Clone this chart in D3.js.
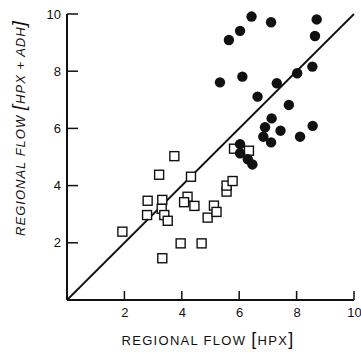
<!DOCTYPE html>
<html>
<head>
<meta charset="utf-8">
<script src="https://cdn.jsdelivr.net/npm/d3@7"></script>
<style>
  body { margin: 0; background: #fff; }
  text { font-family: "Liberation Sans", Arial, sans-serif; fill: #111; }
</style>
</head>
<body>
<svg id="chart" width="361" height="352"></svg>
<script>
// HPX + ADH (filled circles): [hpx, hpxAdh]
const adhPoints = [
  [6.43, 9.91], [7.11, 9.71], [8.70, 9.81], [6.03, 9.41], [5.64, 9.09],
  [8.64, 9.23], [5.33, 7.61], [6.11, 7.81], [7.31, 7.58], [8.02, 7.93],
  [8.55, 8.16], [6.64, 7.11], [7.73, 6.82], [7.13, 6.35], [6.90, 6.04],
  [7.44, 5.92], [8.56, 6.09], [6.84, 5.71], [8.12, 5.71], [7.11, 5.51],
  [6.03, 5.45], [6.03, 5.13], [6.30, 4.92], [6.46, 4.74]
];
// control (open squares)
const ctlPoints = [
  [1.93, 2.39], [2.79, 2.97], [2.81, 3.47], [3.21, 4.38], [3.74, 5.03],
  [3.32, 3.50], [3.30, 3.19], [3.39, 2.97], [3.51, 2.77], [3.32, 1.46],
  [3.96, 1.98], [4.20, 3.61], [4.08, 3.42], [4.32, 4.31], [4.44, 3.29],
  [4.69, 1.98], [4.90, 2.88], [5.12, 3.30], [5.21, 3.08], [5.56, 3.79],
  [5.56, 4.00], [5.77, 4.16], [5.82, 5.29], [6.34, 5.22]
];
const ticks = [2, 4, 6, 8, 10];
const identity = [[0, 0], [10, 10]];

const svg = d3.select('#chart');
const x = d3.scaleLinear().domain([0, 10]).range([67, 354]);
const y = d3.scaleLinear().domain([0, 10]).range([300, 14]);

let xAxis = d3.axisBottom(x).tickValues(ticks).tickSize(0).tickPadding(8).tickFormat(d3.format('d'));
let yAxis = d3.axisLeft(y).tickValues(ticks).tickSize(0).tickPadding(6).tickFormat(d3.format('d'));

let gx = svg.append('g')
  .attr('class', 'axis axis--x')
  .attr('transform', `translate(0, ${y(0)})`)
  .call(xAxis);
gx.select('.domain').remove();
gx.selectAll('text').style('font-size', '13px');

let gy = svg.append('g')
  .attr('class', 'axis axis--y')
  .attr('transform', `translate(${x(0)}, 0)`)
  .call(yAxis);
gy.select('.domain').remove();
gy.selectAll('text').style('font-size', '13px');

// axis lines with inward ticks
svg.append('line')
  .attr('x1', x(0)).attr('x2', x(10))
  .attr('y1', y(0)).attr('y2', y(0))
  .attr('stroke', '#111').attr('stroke-width', 2);
svg.append('line')
  .attr('x1', x(0)).attr('x2', x(0))
  .attr('y1', y(0)).attr('y2', y(10))
  .attr('stroke', '#111').attr('stroke-width', 2);

svg.selectAll('.xtick').data(ticks).enter().append('line')
  .attr('class', 'xtick')
  .attr('x1', d => x(d)).attr('x2', d => x(d))
  .attr('y1', y(0)).attr('y2', y(0) - 9)
  .attr('stroke', '#111').attr('stroke-width', 1.5);
svg.selectAll('.ytick').data(ticks).enter().append('line')
  .attr('class', 'ytick')
  .attr('x1', x(0)).attr('x2', x(0) + 11)
  .attr('y1', d => y(d)).attr('y2', d => y(d))
  .attr('stroke', '#111').attr('stroke-width', 1.5);

// identity line
svg.append('path')
  .datum(identity)
  .attr('d', d3.line().x(d => x(d[0])).y(d => y(d[1])))
  .attr('stroke', '#111').attr('stroke-width', 1.8).attr('fill', 'none');

// squares
const s = 9;
svg.selectAll('.sq').data(ctlPoints).enter().append('rect')
  .attr('class', 'sq')
  .attr('x', d => x(d[0]) - s / 2).attr('y', d => y(d[1]) - s / 2)
  .attr('width', s).attr('height', s)
  .attr('fill', '#fff').attr('stroke', '#111').attr('stroke-width', 1.4);

// circles
svg.selectAll('.dot').data(adhPoints).enter().append('circle')
  .attr('class', 'dot')
  .attr('cx', d => x(d[0])).attr('cy', d => y(d[1]))
  .attr('r', 5.2)
  .attr('fill', '#111');

// titles
let xt = svg.append('text')
  .attr('x', 208).attr('y', 345)
  .attr('text-anchor', 'middle')
  .style('font-size', '13px').style('letter-spacing', '1.3px');
xt.append('tspan').text('REGIONAL FLOW  ');
xt.append('tspan').style('font-size', '18px').text('[');
xt.append('tspan').text('HPX');
xt.append('tspan').style('font-size', '18px').text(']');

let yt = svg.append('text')
  .attr('transform', 'translate(25, 128) rotate(-90)')
  .attr('text-anchor', 'middle')
  .style('font-size', '13px').style('font-style', 'italic').style('letter-spacing', '1px');
yt.append('tspan').text('REGIONAL FLOW  ');
yt.append('tspan').style('font-size', '19px').text('[');
yt.append('tspan').text('HPX + ADH');
yt.append('tspan').style('font-size', '19px').text(']');
</script>
</body>
</html>
